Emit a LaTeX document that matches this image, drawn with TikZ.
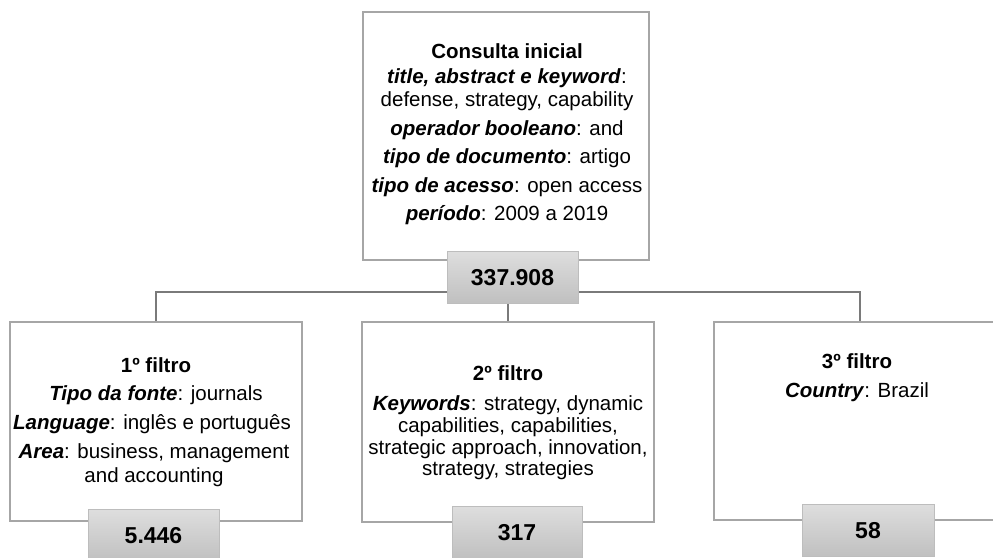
\documentclass[tikz,border=0pt]{standalone}
\usepackage{fontspec}
\setmainfont{Liberation Sans}
\begin{document}
\begin{tikzpicture}[x=1pt,y=-1pt,
  box/.style={draw=boxgray,line width=2pt,fill=white,rectangle,inner sep=0pt},
  numbox/.style={draw=numborder,line width=1pt,rectangle,inner sep=0pt,
    top color=numtop,bottom color=numbot,minimum width=131pt,minimum height=52pt,
    font=\fontsize{23}{26}\selectfont\bfseries,text height=16.5pt,text depth=0pt},
  conn/.style={draw=conngray,line width=1.2pt},
  txt/.style={anchor=base,inner sep=0pt,font=\fontsize{20.5}{24}\selectfont},
  hd/.style={txt,font=\fontsize{20.5}{24}\selectfont\bfseries}]
\definecolor{boxgray}{HTML}{A6A6A6}
\definecolor{numborder}{HTML}{BDBDBD}
\definecolor{numtop}{HTML}{DEDEDE}
\definecolor{numbot}{HTML}{C0C0C0}
\definecolor{conngray}{HTML}{7A7A7A}
\useasboundingbox (0,0) rectangle (993,557);
\clip (0,0) rectangle (993,557);
% boxes
\node[box,minimum width=286pt,minimum height=248pt] (top) at (506,136) {};
\node[box,minimum width=292pt,minimum height=199pt] (b1) at (156,421.5) {};
\node[box,minimum width=292pt,minimum height=200pt] (b2) at (508,422) {};
\node[box,minimum width=292pt,minimum height=198pt] (b3) at (860,421) {};
% connectors
\coordinate (bus) at (508,292);
\draw[conn] (b1.north) |- (bus) -| (b3.north);
\draw[conn] (bus) -- (b2.north);
% number boxes
\node[numbox] (n0) at (512.5,277) {337.908};
\node[numbox] (n1) at (153.5,535) {5.446};
\node[numbox,minimum width=130pt] (n2) at (517,532) {317};
\node[numbox,minimum width=132pt] (n3) at (868,530) {58};
% top box text
\node[hd] (t0) at (507,58) {Consulta inicial};
\node[txt] (t1) at (507,83) {\textbf{\textit{title, abstract e keyword}}:};
\node[txt] (t2) at (507,106) {defense, strategy, capability};
\node[txt] (t3) at (507,135) {\textbf{\textit{operador booleano}}: and};
\node[txt] (t4) at (507,163) {\textbf{\textit{tipo de documento}}: artigo};
\node[txt] (t5) at (507,192) {\textbf{\textit{tipo de acesso}}: open access};
\node[txt] (t6) at (507,220) {\textbf{\textit{período}}: 2009 a 2019};
% box 1 text
\node[hd] (a0) at (156,372) {1º filtro};
\node[txt] (a1) at (156,400) {\textbf{\textit{Tipo da fonte}}: journals};
\node[txt] (a2) at (152,429) {\textbf{\textit{Language}}: inglês e português};
\node[txt] (a3) at (154,458) {\textbf{\textit{Area}}: business, management};
\node[txt] (a4) at (154,482) {and accounting};
% box 2 text
\node[hd] (c0) at (508,380) {2º filtro};
\node[txt] (c1) at (508,410) {\textbf{\textit{Keywords}}: strategy, dynamic};
\node[txt] (c2) at (508,432) {capabilities, capabilities,};
\node[txt] (c3) at (508,454) {strategic approach, innovation,};
\node[txt] (c4) at (508,475) {strategy, strategies};
% box 3 text
\node[hd] (d0) at (857,368) {3º filtro};
\node[txt] (d1) at (857,397) {\textbf{\textit{Country}}: Brazil};
\end{tikzpicture}
\end{document}
